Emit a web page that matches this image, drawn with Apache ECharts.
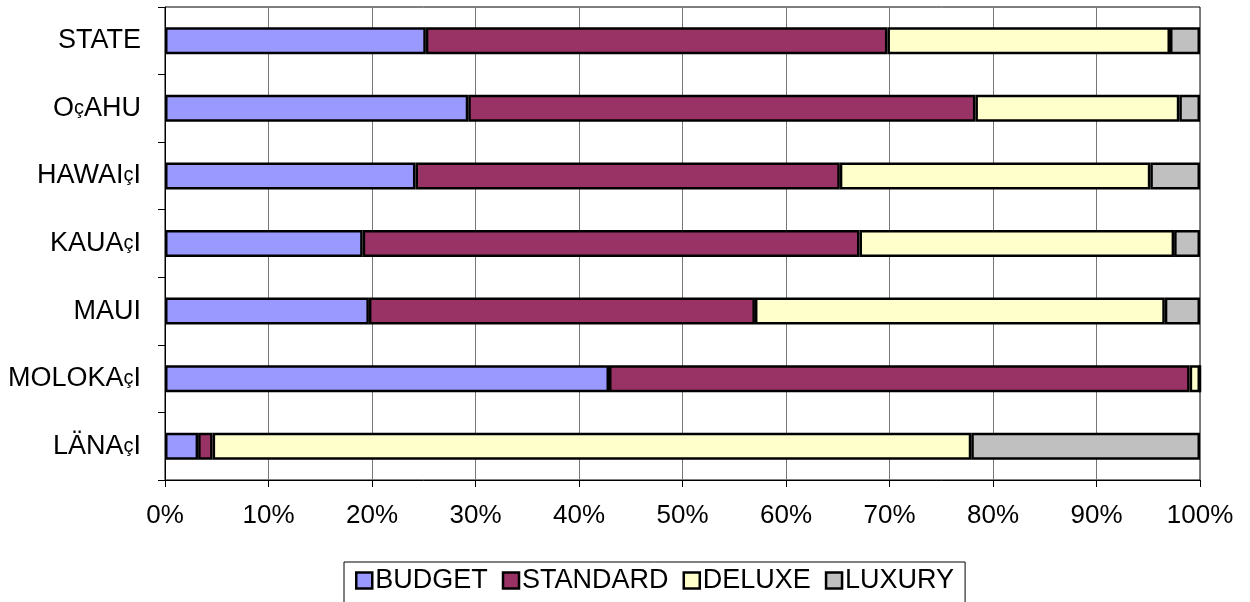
<!DOCTYPE html>
<html>
<head>
<meta charset="utf-8">
<script src="https://cdn.jsdelivr.net/npm/echarts@6/dist/echarts.min.js"></script>
<style>
  html, body { margin: 0; padding: 0; background: #fff; }
  #chart { width: 1250px; height: 602px; }
</style>
</head>
<body>
<div id="chart"></div>
<script>
  // island categories, top to bottom
  var islands = ['STATE', 'OçAHU', 'HAWAIçI', 'KAUAçI', 'MAUI', 'MOLOKAçI', 'LÄNAçI'];

  // share of each class (%)
  var budget   = [25.2, 29.3, 24.2, 19.1, 19.7, 42.9, 3.2];
  var standard = [44.6, 49.0, 41.0, 48.0, 37.3, 56.1, 1.4];
  var deluxe   = [27.3, 19.7, 30.0, 30.4, 39.6, 1.0, 73.3];
  var luxury   = [2.9, 2.0, 4.8, 2.5, 3.4, 0, 22.1];

  var font = '"Liberation Sans", Arial, sans-serif';

  function bar(name, color, data) {
    return {
      name: name,
      type: 'bar',
      stack: 'all',
      barWidth: 27,
      itemStyle: { color: color, borderColor: '#000', borderWidth: 2.5 },
      data: data
    };
  }

  var chart = echarts.init(document.getElementById('chart'));
  chart.setOption({
    animation: false,
    textStyle: { fontFamily: font },
    grid: {
      left: 165, right: 50, top: 7, bottom: 122,
      show: true, borderColor: '#000', borderWidth: 1
    },
    xAxis: {
      type: 'value',
      min: 0, max: 100, interval: 10,
      axisLine: { show: true, lineStyle: { color: '#000', width: 1 } },
      axisTick: { show: true, length: 7, lineStyle: { color: '#000' } },
      axisLabel: { formatter: '{value}%', color: '#000', fontSize: 26, fontFamily: font, margin: 23 },
      splitLine: { show: true, lineStyle: { color: '#777', width: 1 } }
    },
    yAxis: {
      type: 'category',
      inverse: true,
      data: islands,
      axisLine: { show: true, lineStyle: { color: '#000', width: 1 } },
      axisTick: { show: true, length: 7, lineStyle: { color: '#000' } },
      axisLabel: {
        color: '#000', fontSize: 27, fontFamily: font, margin: 24,
        formatter: function (v) { return v.replace(/ç/g, '{s|ç}'); },
        rich: { s: { fontSize: 20, fontFamily: font, color: '#000', verticalAlign: 'middle' } }
      },
      splitLine: { show: false }
    },
    legend: {
      left: 344, top: 562,
      orient: 'horizontal',
      itemWidth: 16, itemHeight: 16, itemGap: 14,
      padding: [5, 11, 20, 11],
      borderColor: '#000', borderWidth: 1,
      icon: 'rect',
      itemStyle: { borderColor: '#000', borderWidth: 2.5 },
      textStyle: { color: '#000', fontSize: 27, fontFamily: font, padding: [0, 0, 0, -2] },
      data: ['BUDGET', 'STANDARD', 'DELUXE', 'LUXURY']
    },
    series: [
      bar('BUDGET', '#9999FF', budget),
      bar('STANDARD', '#993366', standard),
      bar('DELUXE', '#FFFFCC', deluxe),
      bar('LUXURY', '#C0C0C0', luxury)
    ]
  });
</script>
</body>
</html>
